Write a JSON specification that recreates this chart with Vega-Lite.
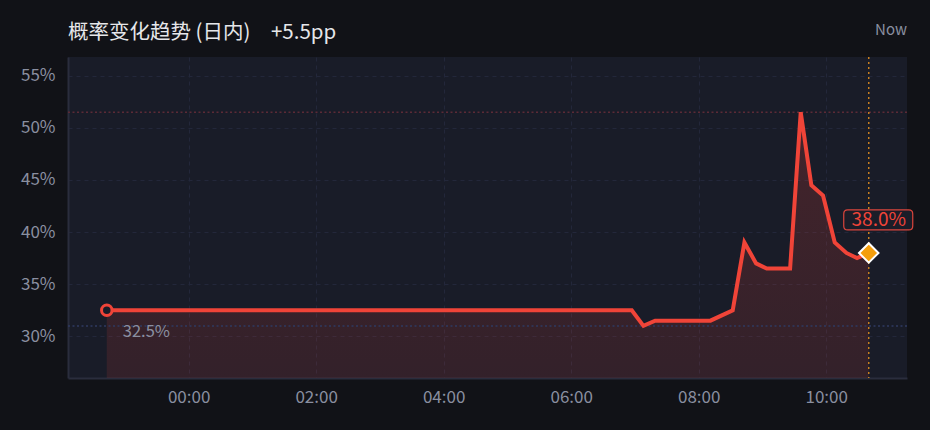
{
  "$schema": "https://vega.github.io/schema/vega-lite/v6.json",
  "width": 839,
  "height": 321,
  "autosize": {"type": "none"},
  "padding": {"left": 68, "top": 57, "right": 23, "bottom": 52},
  "background": "#111217",
  "config": {
    "view": {"fill": "#191c28", "stroke": null},
    "font": "Noto Sans CJK SC",
    "axis": {
      "labelFont": "Noto Sans CJK SC",
      "labelFontSize": 17,
      "labelColor": "#8a8fa0",
      "ticks": false,
      "domainColor": "#2a2d3d",
      "domainWidth": 2,
      "gridColor": "#23273a",
      "gridDash": [4, 4],
      "gridWidth": 1,
      "title": null
    }
  },
  "title": {
    "text": "概率变化趋势 (日内)\u2003+5.5pp",
    "anchor": "start",
    "frame": "group",
    "font": "Noto Sans CJK SC",
    "fontSize": 20.5,
    "fontWeight": "normal",
    "color": "#e6e7ea",
    "offset": -21
  },
  "datasets": {
    "series": [
      {"t": "2024-01-01T22:43:00", "p": 32.5},
      {"t": "2024-01-02T06:57:00", "p": 32.5},
      {"t": "2024-01-02T07:08:00", "p": 31.0},
      {"t": "2024-01-02T07:19:00", "p": 31.5},
      {"t": "2024-01-02T08:11:00", "p": 31.5},
      {"t": "2024-01-02T08:32:00", "p": 32.5},
      {"t": "2024-01-02T08:43:00", "p": 39.0},
      {"t": "2024-01-02T08:54:00", "p": 37.0},
      {"t": "2024-01-02T09:04:00", "p": 36.5},
      {"t": "2024-01-02T09:26:00", "p": 36.5},
      {"t": "2024-01-02T09:36:00", "p": 51.5},
      {"t": "2024-01-02T09:46:00", "p": 44.5},
      {"t": "2024-01-02T09:57:00", "p": 43.5},
      {"t": "2024-01-02T10:08:00", "p": 39.0},
      {"t": "2024-01-02T10:19:00", "p": 38.0},
      {"t": "2024-01-02T10:29:00", "p": 37.5},
      {"t": "2024-01-02T10:40:00", "p": 38.0}
    ],
    "first": [{"t": "2024-01-01T22:43:00", "p": 32.5, "label": "32.5%"}],
    "last": [{"t": "2024-01-02T10:40:00", "p": 38.0, "label": "38.0%"}],
    "refs": [
      {"kind": "max", "p": 51.5},
      {"kind": "min", "p": 31.0}
    ],
    "nowlabel": [{"t": "2024-01-02T11:16:00", "p": 59.4, "label": "Now"}]
  },
  "encoding": {
    "x": {
      "field": "t",
      "type": "temporal",
      "scale": {
        "domain": [
          {"year": 2024, "month": 1, "date": 1, "hours": 22, "minutes": 6, "seconds": 30},
          {"year": 2024, "month": 1, "date": 2, "hours": 11, "minutes": 16}
        ]
      },
      "axis": {
        "format": "%H:%M",
        "values": [
          {"year": 2024, "month": 1, "date": 2, "hours": 0},
          {"year": 2024, "month": 1, "date": 2, "hours": 2},
          {"year": 2024, "month": 1, "date": 2, "hours": 4},
          {"year": 2024, "month": 1, "date": 2, "hours": 6},
          {"year": 2024, "month": 1, "date": 2, "hours": 8},
          {"year": 2024, "month": 1, "date": 2, "hours": 10}
        ],
        "labelPadding": 11
      }
    },
    "y": {
      "field": "p",
      "type": "quantitative",
      "scale": {"domain": [26, 56.8], "zero": false, "nice": false},
      "axis": {
        "values": [30, 35, 40, 45, 50, 55],
        "labelExpr": "datum.value + '%'",
        "labelPadding": 13
      }
    }
  },
  "layer": [
    {
      "data": {"name": "series"},
      "mark": {
        "type": "area",
        "color": {
          "gradient": "linear",
          "x1": 0, "y1": 0, "x2": 0, "y2": 1,
          "stops": [
            {"offset": 0, "color": "rgba(239,68,56,0.20)"},
            {"offset": 1, "color": "rgba(239,68,56,0.12)"}
          ]
        }
      },
      "encoding": {"y2": {"datum": 26}}
    },
    {
      "data": {"name": "refs"},
      "mark": {"type": "rule", "strokeDash": [2, 2.5], "strokeWidth": 1.5},
      "encoding": {
        "x": null,
        "color": {
          "field": "kind",
          "type": "nominal",
          "scale": {"domain": ["max", "min"], "range": ["#5c2a36", "#2f3a60"]},
          "legend": null
        }
      }
    },
    {
      "data": {"name": "last"},
      "mark": {"type": "rule", "color": "#c98020", "strokeDash": [2, 3], "strokeWidth": 1.5},
      "encoding": {"y": null}
    },
    {
      "data": {"name": "series"},
      "mark": {"type": "line", "color": "#f04438", "strokeWidth": 4, "strokeJoin": "miter"}
    },
    {
      "data": {"name": "first"},
      "mark": {"type": "point", "shape": "circle", "filled": true, "fill": "#191c28", "stroke": "#f04438", "strokeWidth": 3, "size": 110, "opacity": 1}
    },
    {
      "data": {"name": "first"},
      "mark": {"type": "text", "align": "left", "baseline": "middle", "dx": 16, "dy": 22, "fontSize": 16.5, "color": "#8a8fa0"},
      "encoding": {"text": {"field": "label"}}
    },
    {
      "data": {"name": "last"},
      "mark": {"type": "point", "shape": "diamond", "filled": true, "fill": "#f59e0b", "stroke": "#ffffff", "strokeWidth": 2, "size": 380, "opacity": 1}
    },
    {
      "data": {"name": "last"},
      "mark": {
        "type": "point",
        "shape": "M-0.884,-0.29 L0.884,-0.29 Q1,-0.29 1,-0.174 L1,0.174 Q1,0.29 0.884,0.29 L-0.884,0.29 Q-1,0.29 -1,0.174 L-1,-0.174 Q-1,-0.29 -0.884,-0.29 Z",
        "size": 4761,
        "filled": true,
        "fill": "#1b1d28",
        "stroke": "#d9453c",
        "strokeWidth": 1.2,
        "opacity": 1,
        "xOffset": 9.5,
        "yOffset": -33,
        "clip": false
      }
    },
    {
      "data": {"name": "last"},
      "mark": {"type": "text", "align": "center", "baseline": "middle", "dx": 10, "dy": -33, "fontSize": 19, "color": "#f04438"},
      "encoding": {"text": {"field": "label"}}
    },
    {
      "data": {"name": "nowlabel"},
      "mark": {"type": "text", "align": "right", "baseline": "middle", "fontSize": 15, "color": "#8a8fa0", "clip": false},
      "encoding": {"text": {"field": "label"}}
    }
  ]
}
